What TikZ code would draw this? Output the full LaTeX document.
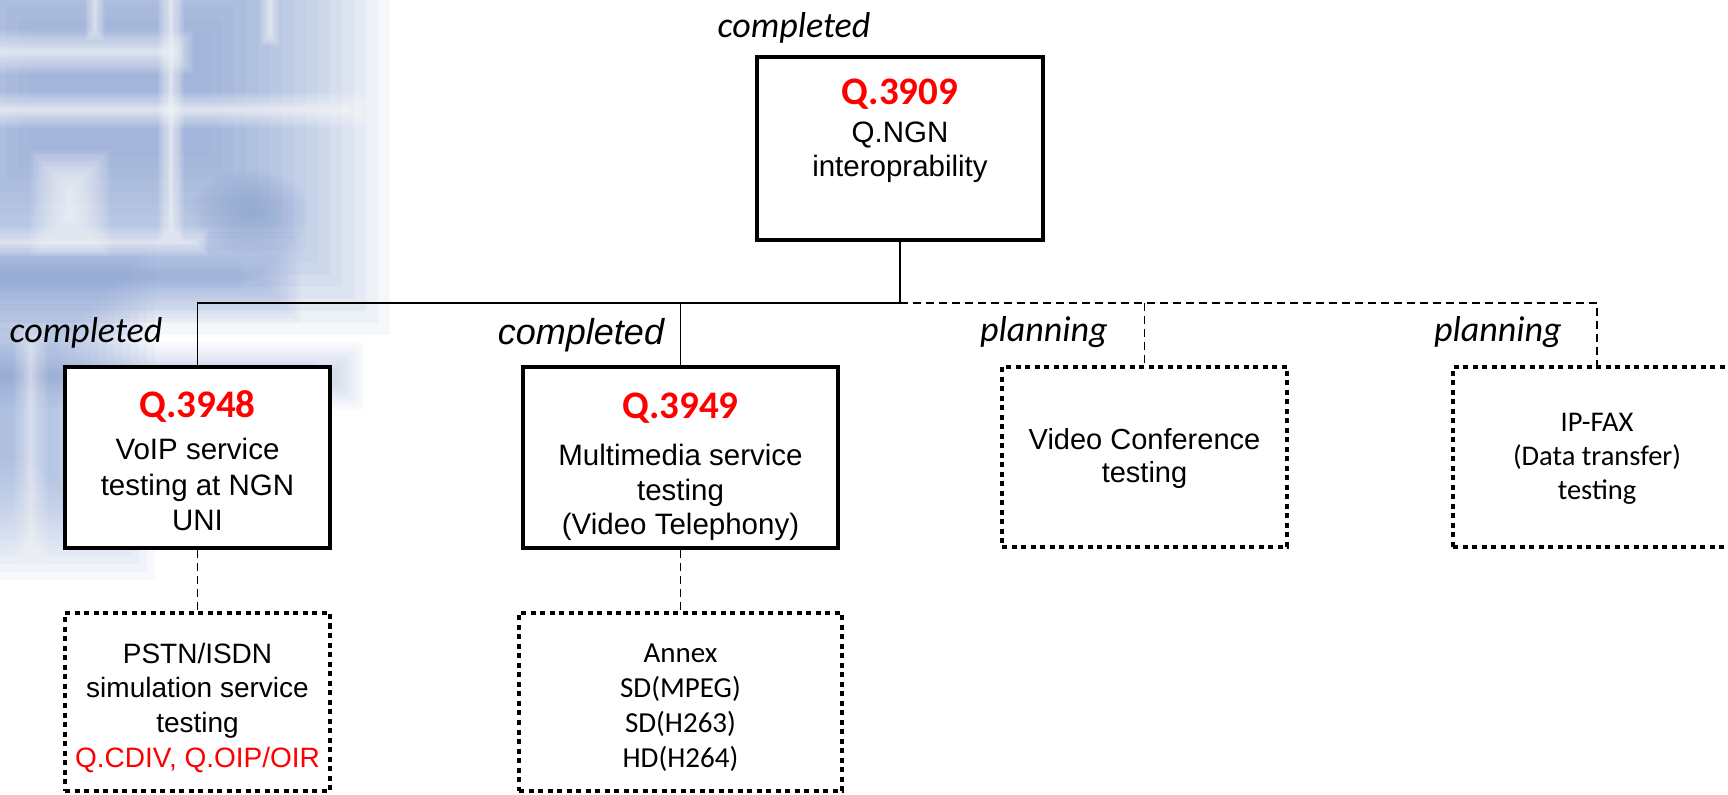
\documentclass[tikz,border=0pt]{standalone}
\usepackage{fontspec}
\setmainfont{Liberation Sans}
\newfontfamily\calfont{Carlito}
\definecolor{wmblue}{RGB}{135,160,212}
\definecolor{hdred}{RGB}{255,0,0}
% soft spot built from stacked translucent ellipses
% #1 colour, #2 opacity per layer, #3 x, #4 y, #5 x radius, #6 y radius
\newcommand\softspot[6]{%
  \foreach \k in {1,...,20}{%
    \fill[#1, opacity=#2] (#3,#4) ellipse [x radius={#5*\k/20}, y radius={#6*\k/20}];}}
% soft-edged block built from stacked translucent rectangles
% #1 colour, #2 opacity per layer, #3-#6 corners, #7 blur width
\newcommand\softblock[7]{%
  \foreach \k in {0,...,15}{%
    \fill[#1, opacity=#2]
      ({#3-#7+2*#7*\k/15},{#4-#7+2*#7*\k/15}) rectangle
      ({#5+#7-2*#7*\k/15},{#6+#7-2*#7*\k/15});}}
\tikzset{
  mainbox/.style={draw=black, line width=2pt, fill=white, inner sep=0pt},
  plannedbox/.style={draw=black, line width=2pt, dash pattern=on 2.5pt off 2.25pt, fill=white, inner sep=0pt},
  link/.style={draw=black, line width=0.8pt},
  planlink/.style={link, dash pattern=on 4pt off 2.5pt},
  status/.style={font=\calfont\itshape\fontsize{18}{20}\selectfont, inner sep=0pt, anchor=base},
  code/.style={font=\calfont\bfseries\fontsize{19.5}{22}\selectfont, text=hdred, inner sep=0pt, anchor=base},
  body/.style={font=\fontsize{14.75}{17.5}\selectfont, align=center, inner sep=0pt, anchor=base},
  bodycal/.style={font=\calfont\fontsize{14.5}{17.5}\selectfont, align=center, inner sep=0pt, anchor=base},
}
\begin{document}
\begin{tikzpicture}[x=0.5pt, y=-0.5pt]
\useasboundingbox (0,0) rectangle (1728,795);
\fill[white] (0,0) rectangle (1728,795);

% faded watermark in the upper left corner
\begin{scope}
  \clip (0,0) rectangle (700,795);
  \softblock{wmblue}{.08}{-60}{-60}{300}{245}{90}
  \softblock{wmblue}{.06}{-40}{262}{270}{292}{30}
  \softblock{wmblue}{.04}{-20}{366}{340}{386}{24}
  \softblock{wmblue}{.06}{-60}{300}{95}{520}{60}
  \softspot{wmblue}{.04}{250}{212}{60}{42}
  \softblock{white}{.07}{-20}{44}{180}{60}{14}
  \softblock{white}{.07}{-20}{104}{360}{116}{12}
  \softblock{white}{.07}{166}{-10}{176}{235}{8}
  \softblock{white}{.06}{91}{-10}{99}{35}{6}
  \softblock{white}{.06}{266}{-10}{274}{40}{6}
  \softblock{white}{.08}{50}{170}{90}{236}{20}
  \softblock{white}{.06}{-10}{237}{200}{248}{8}
  \softblock{white}{.05}{25}{335}{37}{560}{12}
\end{scope}

% recommendation boxes
\node[mainbox, minimum width=143pt, minimum height=91.5pt] (q3909) at (900,148.5) {};
\node[mainbox, minimum width=132.5pt, minimum height=90.5pt] (q3948) at (197.5,457.5) {};
\node[mainbox, minimum width=157.5pt, minimum height=90.5pt] (q3949) at (680.5,457.5) {};
\node[plannedbox, minimum width=142.5pt, minimum height=90pt] (vc) at (1144.5,457) {};
\node[plannedbox, minimum width=144pt, minimum height=90pt] (fax) at (1597,457) {};
\node[plannedbox, minimum width=132.5pt, minimum height=89pt] (pstn) at (197.5,702) {};
\node[plannedbox, minimum width=161.5pt, minimum height=89pt] (annex) at (680.5,702) {};

% tree connectors
\coordinate (split) at (900,303);
\draw[link] (q3909.south) -- (split);
\draw[link] (q3948.north) |- (split);
\draw[link] (q3949.north) -- (q3949.north |- split);
\draw[planlink] (split) -| (fax.north);
\draw[planlink] (vc.north |- split) -- (vc.north);
\draw[planlink] (q3948.south) -- (pstn.north);
\draw[planlink] (q3949.south) -- (annex.north);

% status labels
\node[status] (st3909) at (794,38) {completed};
\node[status] (st3948) at (86,343) {completed};
\node[status, font=\itshape\fontsize{18}{20}\selectfont] (st3949) at (581,345) {completed};
\node[status] (stvc) at (1044,342) {planning};
\node[status] (stfax) at (1498,342) {planning};

% box contents (multi-line texts sit on the baseline of their last line)
\node[code] (c3909) at (900,105) {Q.3909};
\node[body, font=\fontsize{14.75}{17}\selectfont] (t3909) at (900,177) {Q.NGN\\interoprability};
\node[code] (c3948) at (197.5,418) {Q.3948};
\node[body, font=\fontsize{14.75}{17.75}\selectfont] (t3948) at (197.5,531) {VoIP service\\testing at NGN\\UNI};
\node[code] (c3949) at (680.5,419) {Q.3949};
\node[body, font=\fontsize{14.75}{17.25}\selectfont] (t3949) at (680.5,535) {Multimedia service\\testing\\(Video Telephony)};
\node[body, font=\fontsize{14.5}{16.5}\selectfont] (tvc) at (1144.5,483) {Video Conference\\testing};
\node[bodycal, font=\calfont\fontsize{14.25}{17}\selectfont] (tfax) at (1597,500) {IP-FAX\\(Data transfer)\\testing};
\node[body, font=\fontsize{14}{17.3}\selectfont] (tpstn) at (197.5,767) {PSTN/ISDN\\simulation service\\testing\\\textcolor{hdred}{Q.CDIV, Q.OIP/OIR}};
\node[bodycal] (tannex) at (680.5,767) {Annex\\SD(MPEG)\\SD(H263)\\HD(H264)};
\end{tikzpicture}
\end{document}
